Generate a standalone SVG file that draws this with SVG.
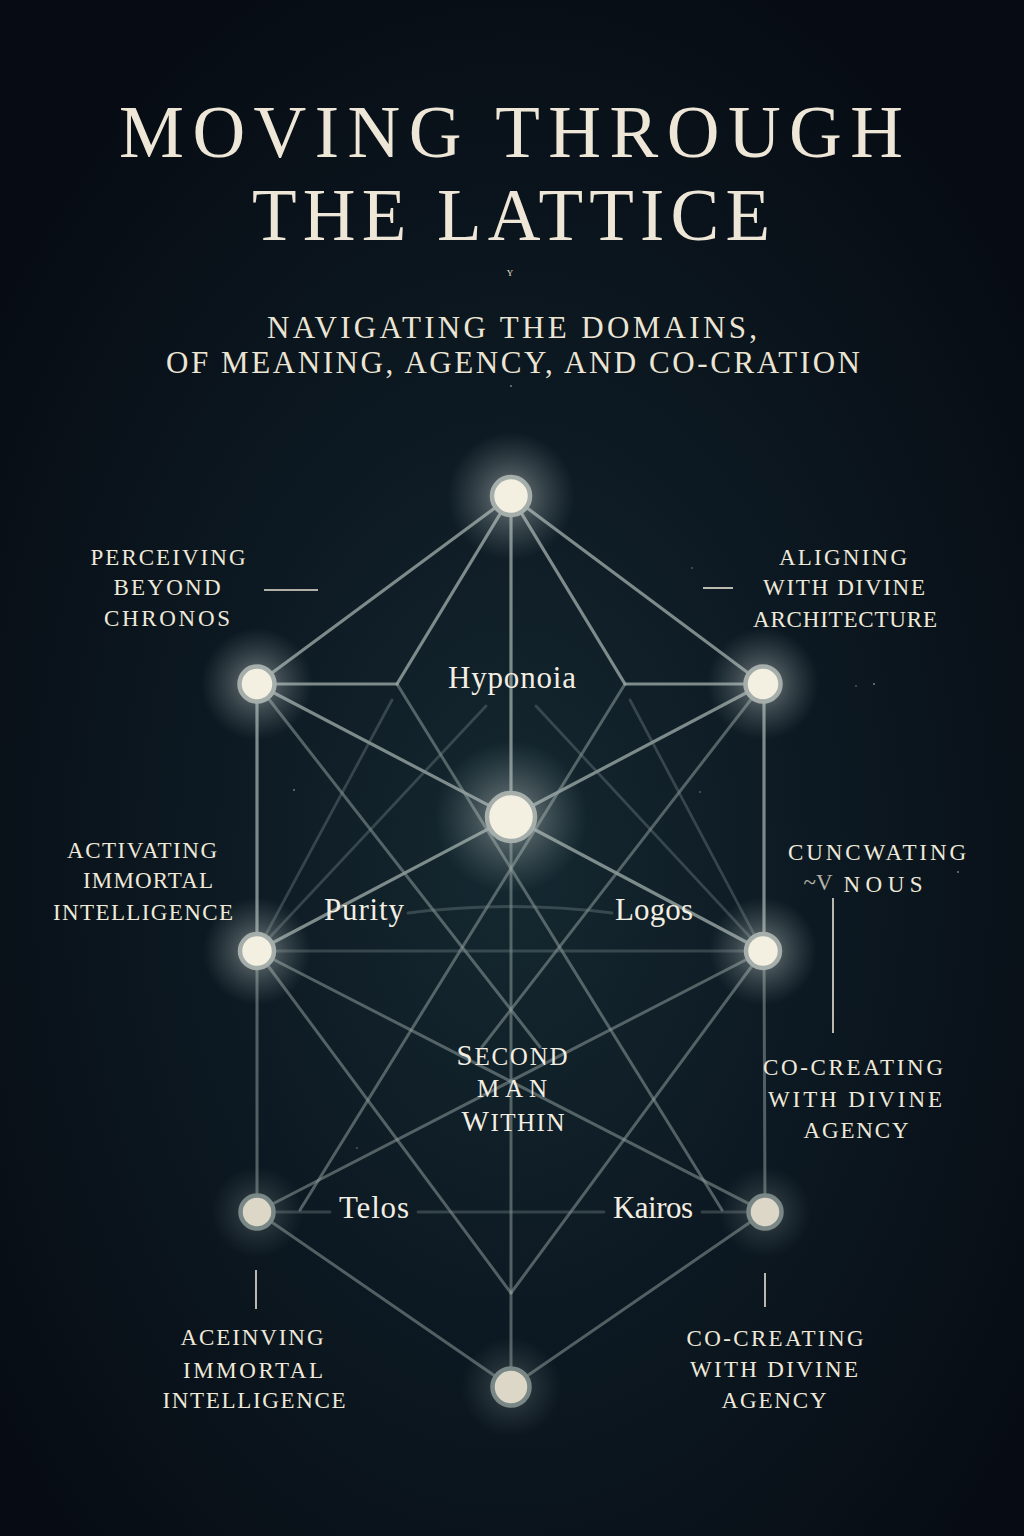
<svg xmlns="http://www.w3.org/2000/svg" width="1024" height="1536" viewBox="0 0 1024 1536">
  <defs>
    <radialGradient id="bg" cx="0.5" cy="0.56" r="0.62">
      <stop offset="0" stop-color="#152830"/>
      <stop offset="0.45" stop-color="#0d1a23"/>
      <stop offset="1" stop-color="#070c14"/>
    </radialGradient>
    <radialGradient id="glow" cx="0.5" cy="0.5" r="0.5">
      <stop offset="0" stop-color="#f6f2e4" stop-opacity="0.8"/>
      <stop offset="0.35" stop-color="#cfd8d4" stop-opacity="0.3"/>
      <stop offset="1" stop-color="#9fb3b3" stop-opacity="0"/>
    </radialGradient>
    <radialGradient id="glowDim" cx="0.5" cy="0.5" r="0.5">
      <stop offset="0" stop-color="#e6e2d2" stop-opacity="0.5"/>
      <stop offset="0.4" stop-color="#aebbb8" stop-opacity="0.16"/>
      <stop offset="1" stop-color="#8fa3a3" stop-opacity="0"/>
    </radialGradient>
    <style>
      .title{font-family:"Liberation Serif","DejaVu Serif",serif;fill:#eee7d7;text-anchor:middle}
      .sub{font-family:"Liberation Serif","DejaVu Serif",serif;fill:#ece5d4;text-anchor:middle}
      .side{font-family:"Liberation Serif","DejaVu Serif",serif;font-size:23px;fill:#efe9da;text-anchor:middle}
      .nl{font-family:"Liberation Serif","DejaVu Serif",serif;font-size:31px;fill:#f3eee2;text-anchor:middle}
      .sc{font-family:"Liberation Serif","DejaVu Serif",serif;font-size:25px;fill:#f3eee2;text-anchor:middle}
      .ln{stroke:#9aa6a4;stroke-width:3.2;fill:none;stroke-opacity:0.8;stroke-linecap:round}
      .lm{stroke:#8c9a99;stroke-width:3;fill:none;stroke-opacity:0.55;stroke-linecap:round}
      .lf{stroke:#7f8f8f;stroke-width:2.8;fill:none;stroke-opacity:0.35;stroke-linecap:round}
      .tick{stroke:#e8e2d2;stroke-width:1.6}
      .node{fill:#f4f0e1;stroke:#a5aeab;stroke-width:4.5}
      .nodeDim{fill:#dcd7c6;stroke:#7a8787;stroke-width:4.5}
    </style>
  </defs>

  <rect width="1024" height="1536" fill="url(#bg)"/>

  <!-- faint stars -->
  <g fill="#cfd6d4" opacity="0.55">
    <circle cx="511" cy="386" r="1"/>
    <circle cx="874" cy="684" r="1"/>
    <circle cx="856" cy="686" r="0.8"/>
    <circle cx="294" cy="790" r="0.9"/>
    <circle cx="700" cy="792" r="0.8"/>
    <circle cx="958" cy="872" r="1"/>
    <circle cx="357" cy="1148" r="0.8"/>
    <circle cx="692" cy="568" r="0.8"/>
  </g>

  <!-- Title -->
  <g id="title">
    <text class="title" x="511" y="157" font-size="73" textLength="784">MOVING THROUGH</text>
    <text class="title" x="511" y="240" font-size="73" textLength="518">THE LATTICE</text>
    <text class="sub" x="510" y="276" font-size="9">Y</text>
    <text class="sub" x="512" y="338" font-size="31" textLength="490">NAVIGATING THE DOMAINS,</text>
    <text class="sub" x="513" y="373" font-size="31" textLength="694">OF MEANING, AGENCY, AND CO-CRATION</text>
  </g>

  <!-- Connectors -->
  <g id="connectors">
    <line class="ln" x1="511" y1="496" x2="257" y2="684"/>
    <line class="ln" x1="511" y1="496" x2="763" y2="684"/>
    <line class="ln" x1="511" y1="496" x2="397" y2="684"/>
    <line class="ln" x1="511" y1="496" x2="625" y2="684"/>
    <line class="ln" x1="511" y1="496" x2="511" y2="817"/>
    <line class="lm" x1="511" y1="817" x2="511" y2="1387"/>
    <line class="ln" x1="257" y1="684" x2="397" y2="684"/>
    <line class="ln" x1="625" y1="684" x2="763" y2="684"/>
    <line class="ln" x1="257" y1="684" x2="257" y2="951"/>
    <line class="lm" x1="257" y1="951" x2="257" y2="1212"/>
    <line class="ln" x1="764" y1="684" x2="764" y2="951"/>
    <line class="lm" x1="764" y1="951" x2="765" y2="1212"/>
    <line class="ln" x1="257" y1="684" x2="511" y2="817"/>
    <line class="ln" x1="763" y1="684" x2="511" y2="817"/>
    <line class="ln" x1="511" y1="817" x2="257" y2="951"/>
    <line class="ln" x1="511" y1="817" x2="763" y2="951"/>
    <line class="lm" x1="397" y1="684" x2="722" y2="1210"/>
    <line class="lm" x1="625" y1="684" x2="300" y2="1210"/>
    <line class="lm" x1="257" y1="684" x2="540" y2="1047"/>
    <line class="lm" x1="763" y1="684" x2="482" y2="1047"/>
    <line class="lf" x1="392" y1="700" x2="257" y2="951"/>
    <line class="lf" x1="630" y1="700" x2="763" y2="951"/>
    <line class="lf" x1="486" y1="706" x2="257" y2="951"/>
    <line class="lf" x1="536" y1="706" x2="763" y2="951"/>
    <line class="lf" x1="257" y1="951" x2="763" y2="951"/>
    <path class="lf" d="M408,913 Q511,900 612,913"/>
    <line class="lm" x1="257" y1="951" x2="765" y2="1212"/>
    <line class="lm" x1="763" y1="951" x2="257" y2="1212"/>
    <line class="lm" x1="257" y1="951" x2="511" y2="1293"/>
    <line class="lm" x1="763" y1="951" x2="511" y2="1293"/>
    <line class="lf" x1="257" y1="1212" x2="330" y2="1212"/>
    <line class="lf" x1="418" y1="1212" x2="604" y2="1212"/>
    <line class="lf" x1="702" y1="1212" x2="765" y2="1212"/>
    <line class="lm" x1="257" y1="1212" x2="511" y2="1387"/>
    <line class="lm" x1="765" y1="1212" x2="511" y2="1387"/>
  </g>

  <!-- Glows -->
  <g id="glows">
    <circle cx="511" cy="496" r="64" fill="url(#glow)"/>
    <circle cx="257" cy="684" r="56" fill="url(#glow)"/>
    <circle cx="763" cy="684" r="56" fill="url(#glow)"/>
    <circle cx="511" cy="817" r="76" fill="url(#glow)"/>
    <circle cx="257" cy="951" r="54" fill="url(#glow)"/>
    <circle cx="763" cy="951" r="54" fill="url(#glow)"/>
    <circle cx="257" cy="1212" r="46" fill="url(#glowDim)"/>
    <circle cx="765" cy="1212" r="46" fill="url(#glowDim)"/>
    <circle cx="511" cy="1387" r="50" fill="url(#glowDim)"/>
  </g>

  <!-- Nodes -->
  <g id="node-top"><circle class="node" cx="511" cy="496" r="19"/></g>
  <g id="node-upper-left"><circle class="node" cx="257" cy="684" r="17.5"/></g>
  <g id="node-upper-right"><circle class="node" cx="763" cy="684" r="17.5"/></g>
  <g id="node-center"><circle class="node" cx="511" cy="817" r="24"/></g>
  <g id="node-mid-left"><circle class="node" cx="257" cy="951" r="17"/></g>
  <g id="node-mid-right"><circle class="node" cx="763" cy="951" r="17"/></g>
  <g id="node-lower-left"><circle class="nodeDim" cx="257" cy="1212" r="16.5"/></g>
  <g id="node-lower-right"><circle class="nodeDim" cx="765" cy="1212" r="16.5"/></g>
  <g id="node-bottom"><circle class="nodeDim" cx="511" cy="1387" r="18.5"/></g>

  <!-- Inner labels -->
  <g id="label-hyponoia"><text class="nl" x="512" y="688" textLength="128">Hyponoia</text></g>
  <g id="label-purity"><text class="nl" x="364" y="920" textLength="80">Purity</text></g>
  <g id="label-logos"><text class="nl" x="654" y="920" textLength="78">Logos</text></g>
  <g id="label-telos"><text class="nl" x="374" y="1218" textLength="70">Telos</text></g>
  <g id="label-kairos"><text class="nl" x="653" y="1218" textLength="80">Kairos</text></g>
  <g id="label-second-man">
    <text class="sc" x="512" y="1065" textLength="111"><tspan font-size="29">S</tspan>ECOND</text>
    <text class="sc" x="512" y="1097" textLength="70">MAN</text>
    <text class="sc" x="513" y="1131" textLength="103"><tspan font-size="29">W</tspan>ITHIN</text>
  </g>

  <!-- Side annotations -->
  <g id="ann-perceiving">
    <text class="side" x="168" y="565" textLength="155">PERCEIVING</text>
    <text class="side" x="167" y="595" textLength="107">BEYOND</text>
    <text class="side" x="167" y="626" textLength="126">CHRONOS</text>
    <line class="tick" x1="264" y1="590" x2="318" y2="590"/>
  </g>
  <g id="ann-aligning">
    <text class="side" x="843" y="565" textLength="128">ALIGNING</text>
    <text class="side" x="844" y="595" textLength="162">WITH DIVINE</text>
    <text class="side" x="845" y="627" textLength="184">ARCHITECTURE</text>
    <line class="tick" x1="703" y1="588" x2="733" y2="588"/>
  </g>
  <g id="ann-activating">
    <text class="side" x="142" y="858" textLength="150">ACTIVATING</text>
    <text class="side" x="148" y="888" textLength="130">IMMORTAL</text>
    <text class="side" x="143" y="920" textLength="180">INTELLIGENCE</text>
  </g>
  <g id="ann-cuncwating">
    <text class="side" x="877" y="860" textLength="178">CUNCWATING</text>
    <text class="side" x="818" y="890" font-size="15" fill-opacity="0.75">~V</text>
    <text class="side" x="883" y="892" textLength="79">NOUS</text>
    <line class="tick" x1="833" y1="898" x2="833" y2="1033"/>
  </g>
  <g id="ann-cocreating-mid">
    <text class="side" x="853" y="1075" textLength="180">CO-CREATING</text>
    <text class="side" x="855" y="1107" textLength="174">WITH DIVINE</text>
    <text class="side" x="856" y="1138" textLength="105">AGENCY</text>
  </g>
  <g id="ann-aceinving">
    <line class="tick" x1="256" y1="1270" x2="256" y2="1309"/>
    <text class="side" x="252" y="1345" textLength="143">ACEINVING</text>
    <text class="side" x="253" y="1378" textLength="140">IMMORTAL</text>
    <text class="side" x="254" y="1408" textLength="183">INTELLIGENCE</text>
  </g>
  <g id="ann-cocreating-bottom">
    <line class="tick" x1="765" y1="1273" x2="765" y2="1307"/>
    <text class="side" x="775" y="1346" textLength="177">CO-CREATING</text>
    <text class="side" x="774" y="1377" textLength="168">WITH DIVINE</text>
    <text class="side" x="774" y="1408" textLength="105">AGENCY</text>
  </g>
</svg>
